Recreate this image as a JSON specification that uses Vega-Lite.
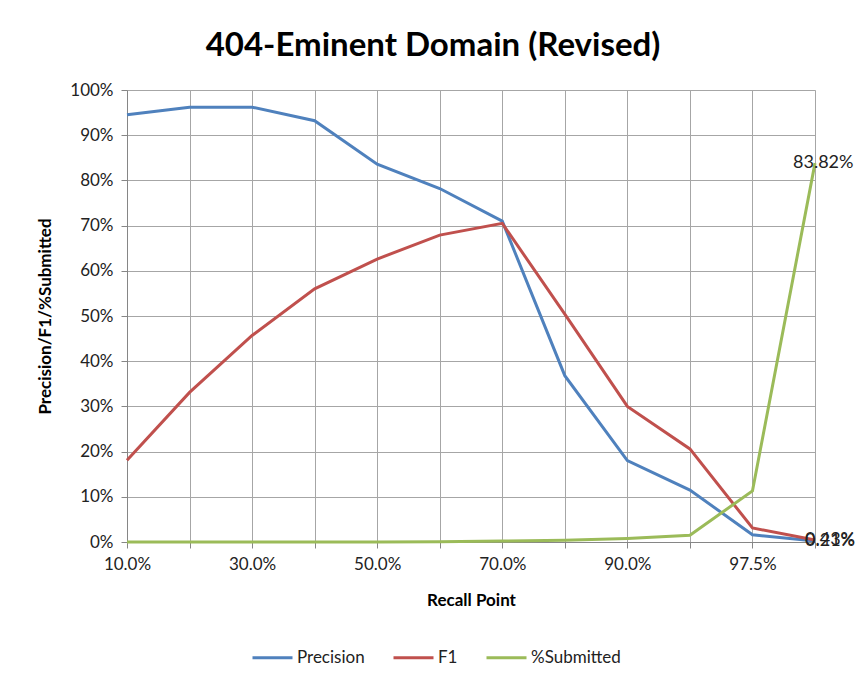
{
  "$schema": "https://vega.github.io/schema/vega-lite/v6.json",
  "autosize": {"type": "none"},
  "width": 688,
  "height": 452,
  "padding": {"left": 127, "top": 90, "right": 44, "bottom": 139},
  "background": "white",
  "title": {
    "text": "404-Eminent Domain (Revised)",
    "font": "Lato",
    "fontSize": 33,
    "fontWeight": "bold",
    "color": "#000000",
    "anchor": "middle",
    "dx": -38,
    "offset": 18
  },
  "data": {
    "values": [
      {"recall": "10.0%", "series": "Precision", "value": 0.945},
      {"recall": "20.0%", "series": "Precision", "value": 0.962},
      {"recall": "30.0%", "series": "Precision", "value": 0.962},
      {"recall": "40.0%", "series": "Precision", "value": 0.932},
      {"recall": "50.0%", "series": "Precision", "value": 0.836},
      {"recall": "60.0%", "series": "Precision", "value": 0.782},
      {"recall": "70.0%", "series": "Precision", "value": 0.710},
      {"recall": "80.0%", "series": "Precision", "value": 0.368},
      {"recall": "90.0%", "series": "Precision", "value": 0.180},
      {"recall": "95.0%", "series": "Precision", "value": 0.115},
      {"recall": "97.5%", "series": "Precision", "value": 0.016},
      {"recall": "99.0%", "series": "Precision", "value": 0.0021},
      {"recall": "10.0%", "series": "F1", "value": 0.181},
      {"recall": "20.0%", "series": "F1", "value": 0.331},
      {"recall": "30.0%", "series": "F1", "value": 0.457},
      {"recall": "40.0%", "series": "F1", "value": 0.560},
      {"recall": "50.0%", "series": "F1", "value": 0.626},
      {"recall": "60.0%", "series": "F1", "value": 0.679},
      {"recall": "70.0%", "series": "F1", "value": 0.705},
      {"recall": "80.0%", "series": "F1", "value": 0.504},
      {"recall": "90.0%", "series": "F1", "value": 0.300},
      {"recall": "95.0%", "series": "F1", "value": 0.206},
      {"recall": "97.5%", "series": "F1", "value": 0.031},
      {"recall": "99.0%", "series": "F1", "value": 0.0043},
      {"recall": "10.0%", "series": "%Submitted", "value": 0.0},
      {"recall": "20.0%", "series": "%Submitted", "value": 0.0},
      {"recall": "30.0%", "series": "%Submitted", "value": 0.0},
      {"recall": "40.0%", "series": "%Submitted", "value": 0.0},
      {"recall": "50.0%", "series": "%Submitted", "value": 0.0},
      {"recall": "60.0%", "series": "%Submitted", "value": 0.0005},
      {"recall": "70.0%", "series": "%Submitted", "value": 0.002},
      {"recall": "80.0%", "series": "%Submitted", "value": 0.004},
      {"recall": "90.0%", "series": "%Submitted", "value": 0.008},
      {"recall": "95.0%", "series": "%Submitted", "value": 0.015},
      {"recall": "97.5%", "series": "%Submitted", "value": 0.113},
      {"recall": "99.0%", "series": "%Submitted", "value": 0.8382}
    ]
  },
  "encoding": {
    "x": {
      "field": "recall",
      "type": "ordinal",
      "sort": null,
      "scale": {"type": "point", "padding": 0},
      "axis": {
        "title": "Recall Point",
        "titleFont": "Lato",
        "titleFontSize": 17,
        "titleFontWeight": "bold",
        "titleColor": "#000000",
        "titlePadding": 20,
        "labelFont": "Lato",
        "labelFontSize": 17,
        "labelColor": "#222222",
        "labelAngle": 0,
        "labelPadding": 8,
        "labelExpr": "indexof(['10.0%','30.0%','50.0%','70.0%','90.0%','97.5%'], datum.value) >= 0 ? datum.value : ''",
        "grid": true,
        "gridColor": "#a6a6a6",
        "gridWidth": 1,
        "domainColor": "#868686",
        "tickColor": "#868686",
        "tickSize": 6
      }
    },
    "y": {
      "field": "value",
      "type": "quantitative",
      "scale": {"domain": [0, 1], "nice": false},
      "axis": {
        "title": "Precision/F1/%Submitted",
        "titleFont": "Lato",
        "titleFontSize": 17,
        "titleFontWeight": "bold",
        "titleColor": "#000000",
        "titlePadding": 15,
        "labelFont": "Lato",
        "labelFontSize": 17,
        "labelColor": "#222222",
        "labelPadding": 8,
        "format": ".0%",
        "values": [0, 0.1, 0.2, 0.3, 0.4, 0.5, 0.6, 0.7, 0.8, 0.9, 1.0],
        "grid": true,
        "gridColor": "#a6a6a6",
        "gridWidth": 1,
        "domainColor": "#868686",
        "tickColor": "#868686",
        "tickSize": 6
      }
    }
  },
  "layer": [
    {
      "mark": {"type": "line", "strokeWidth": 3, "clip": false},
      "encoding": {
        "color": {
          "field": "series",
          "type": "nominal",
          "sort": ["Precision", "F1", "%Submitted"],
          "scale": {"domain": ["Precision", "F1", "%Submitted"], "range": ["#4F81BD", "#C0504D", "#9BBB59"]},
          "legend": {
            "title": null,
            "orient": "none",
            "direction": "horizontal",
            "legendX": 124,
            "legendY": 546,
            "symbolType": "stroke",
            "symbolStrokeWidth": 3,
            "symbolSize": 1600,
            "labelFont": "Lato",
            "labelFontSize": 17,
            "labelColor": "#222222",
            "labelOffset": 3,
            "columnPadding": 22
          }
        }
      }
    },
    {
      "transform": [{"filter": "datum.recall == '99.0%' && datum.series != '%Submitted'"}],
      "mark": {"type": "text", "align": "left", "baseline": "middle", "dx": -10, "font": "Lato", "fontSize": 18, "color": "#222222"},
      "encoding": {"text": {"field": "value", "type": "quantitative", "format": ".2%"}}
    },
    {
      "transform": [{"filter": "datum.recall == '99.0%' && datum.series == '%Submitted'"}],
      "mark": {"type": "text", "align": "left", "baseline": "middle", "dx": -22, "font": "Lato", "fontSize": 18, "color": "#222222"},
      "encoding": {"text": {"field": "value", "type": "quantitative", "format": ".2%"}}
    }
  ]
}
